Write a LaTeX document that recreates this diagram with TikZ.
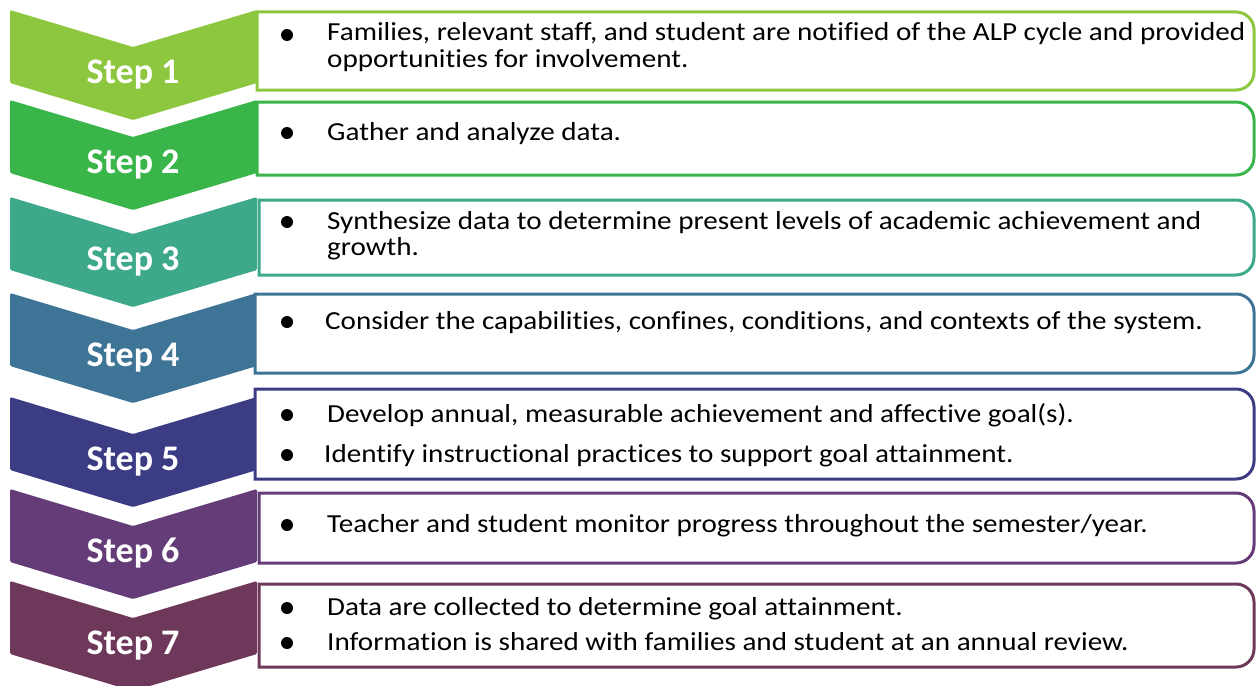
\documentclass[tikz,border=0pt]{standalone}
\usepackage{fontspec}
\setmainfont{Carlito}
\newfontfamily\bodyfont[FakeStretch=1.12, Ligatures={NoCommon}]{Carlito}

\definecolor{stepA}{RGB}{141,198,63}
\definecolor{stepB}{RGB}{57,181,74}
\definecolor{stepC}{RGB}{62,168,138}
\definecolor{stepD}{RGB}{62,117,150}
\definecolor{stepE}{RGB}{60,60,133}
\definecolor{stepF}{RGB}{100,60,120}
\definecolor{stepG}{RGB}{110,56,90}

\tikzset{
  chevron/.style={fill=#1, rounded corners=1.5pt},
  stepbox/.style={draw=#1, line width=3pt, fill=white},
  steplabel/.style={text=white, font=\fontsize{36}{36}\selectfont\bfseries, anchor=base, inner sep=0pt},
  item/.style={font=\fontsize{26}{26}\bodyfont, anchor=base west, inner sep=0pt},
  bullet/.style={circle, fill=black, inner sep=0pt, minimum size=12pt},
}

\begin{document}
\begin{tikzpicture}[x=1pt, y=-1pt]
\useasboundingbox (0,0) rectangle (1257,685);

%% chevrons and boxes
\foreach \n/\ct/\bl/\bt/\bb/\cl in {1/10/257/12/90/stepA, 2/100/257/102/175/stepB,
    3/197/259/200/275/stepC, 4/293/255/294/373/stepD, 5/397/255/389/479/stepE,
    6/489/259/493/563/stepF, 7/581/259/584/667/stepG}{
  \fill[chevron=\cl] (10,\ct) -- (133,\ct+37) -- (257,\ct) -- (257,\ct+73)
    -- (133,\ct+110) -- (10,\ct+73) -- cycle;
  \node[steplabel] (s\n) at (133,\ct+73) {Step \n};
  \draw[stepbox=\cl] (\bl,\bt) -- (1236,\bt) arc[start angle=-90, end angle=0, radius=18]
    -- (1254,\bb-18) arc[start angle=0, end angle=90, radius=18] -- (\bl,\bb) -- cycle;
}

%%% bullets
\foreach \k/\y in {1/35, 2/133, 3/222, 4/322, 5/415, 6/455, 7/525, 8/608, 9/643}
  \node[bullet] (b\k) at (287,\y) {};

%%% texts
\node[item] (t1a) at (327,41) {Families, relevant staff, and student are notified of the ALP cycle and provided};
\node[item] (t1b) at (327,67) {opportunities for involvement.};
\node[item] (t2) at (327,140) {Gather and analyze data.};
\node[item] (t3a) at (327,229) {Synthesize data to determine present levels of academic achievement and};
\node[item] (t3b) at (327,255) {growth.};
\node[item] (t4) at (325,329) {Consider the capabilities, confines, conditions, and contexts of the system.};
\node[item] (t5a) at (327,422) {Develop annual, measurable achievement and affective goal(s).};
\node[item] (t5b) at (324,462) {Identify instructional practices to support goal attainment.};
\node[item] (t6) at (327,532) {Teacher and student monitor progress throughout the semester/year.};
\node[item] (t7a) at (327,615) {Data are collected to determine goal attainment.};
\node[item] (t7b) at (327,650) {Information is shared with families and student at an annual review.};

\end{tikzpicture}
\end{document}
